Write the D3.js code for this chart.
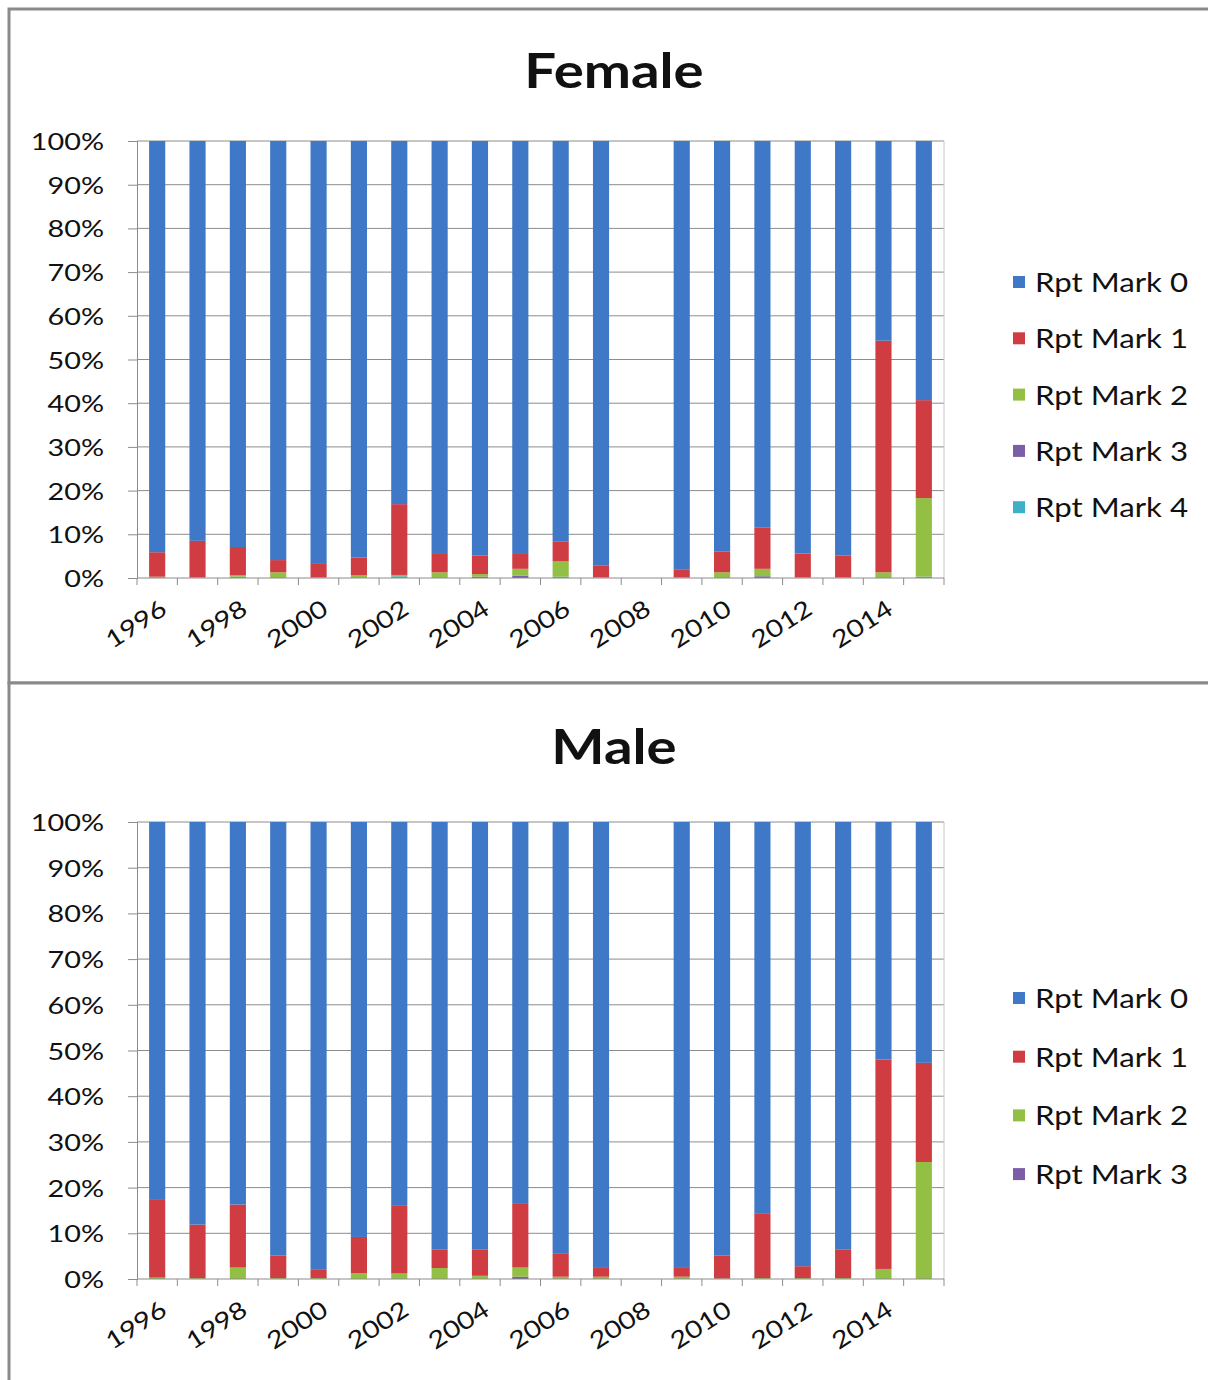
<!DOCTYPE html>
<html>
<head>
<meta charset="utf-8">
<script src="https://cdn.jsdelivr.net/npm/d3@7"></script>
<style>
  html, body { margin: 0; padding: 0; background: #fff; }
  svg { display: block; }
  text { font-family: Lato, "Open Sans", sans-serif; fill: #111; }
</style>
</head>
<body>
<svg id="chart" width="1208" height="1380"></svg>
<script>
// Report years (2008 has no survey data)
const years = [1996, 1997, 1998, 1999, 2000, 2001, 2002, 2003, 2004, 2005,
               2006, 2007, 2008, 2009, 2010, 2011, 2012, 2013, 2014, 2015];
const yearTicks = [1996, 1998, 2000, 2002, 2004, 2006, 2008, 2010, 2012, 2014];
const pctTicks = [0, 10, 20, 30, 40, 50, 60, 70, 80, 90, 100];

const seriesNames = ["Rpt Mark 0", "Rpt Mark 1", "Rpt Mark 2", "Rpt Mark 3", "Rpt Mark 4"];
const seriesColors = ["#3f78c6", "#cf3c42", "#94bf45", "#7a5ea8", "#3cb0c8"];

// Female shares (%) per year, one array per report mark
const femaleMark0 = [94.1, 91.5, 92.9, 95.9, 96.6, 95.3, 83.1, 94.5, 94.9, 94.5,
                     91.6, 97.2, null, 98.0, 93.9, 88.4, 94.4, 94.9, 45.7, 59.3];
const femaleMark1 = [5.6, 8.3, 6.5, 2.8, 3.2, 4.1, 16.2, 4.2, 4.2, 3.4,
                     4.6, 2.6, null, 1.8, 4.8, 9.5, 5.4, 4.9, 53.0, 22.4];
const femaleMark2 = [0.3, 0.2, 0.3, 1.3, 0.2, 0.6, 0.3, 1.3, 0.6, 1.6,
                     3.5, 0.2, null, 0.2, 1.3, 1.7, 0.2, 0.2, 1.3, 18.0];
const femaleMark3 = [0, 0, 0, 0, 0, 0, 0, 0, 0.3, 0.5,
                     0, 0, null, 0, 0, 0.4, 0, 0, 0, 0];
const femaleMark4 = [0, 0, 0.3, 0, 0, 0, 0.4, 0, 0, 0,
                     0.3, 0, null, 0, 0, 0, 0, 0, 0, 0.3];

// Male shares (%) per year
const maleMark0 = [82.7, 88.1, 83.7, 94.9, 98.0, 90.8, 84.0, 93.6, 93.6, 83.4,
                   94.5, 97.4, null, 97.4, 94.9, 85.6, 97.2, 93.6, 52.0, 52.7];
const maleMark1 = [17.0, 11.7, 13.8, 4.9, 1.8, 7.9, 14.8, 4.0, 5.7, 14.1,
                   5.0, 2.1, null, 2.1, 5.0, 14.2, 2.6, 6.2, 45.8, 21.7];
const maleMark2 = [0.3, 0.2, 2.5, 0.2, 0.2, 1.3, 1.2, 2.4, 0.7, 2.0,
                   0.5, 0.5, null, 0.5, 0.1, 0.2, 0.2, 0.2, 2.2, 25.6];
const maleMark3 = [0, 0, 0, 0, 0, 0, 0, 0, 0, 0.5,
                   0, 0, null, 0, 0, 0, 0, 0, 0, 0];

const svg = d3.select("#chart");
const TEXT_SX = 1.2; // horizontal stretch applied to all lettering

function stretchedText(g, x, y, str, opts) {
  const t = g.append("g")
    .attr("transform", `translate(${x},${y})` + (opts.rotate ? ` rotate(${opts.rotate})` : "") + ` scale(${TEXT_SX},1)`)
    .append("text")
    .attr("text-anchor", opts.anchor || "start")
    .attr("dominant-baseline", opts.baseline || "alphabetic")
    .style("font-size", opts.size + "px")
    .style("font-weight", opts.weight || "normal")
    .text(str);
  return t;
}

function drawPanel(cfg) {
  const g = svg.append("g");
  const x = d3.scaleBand().domain(years).range([137, 944]).paddingInner(0.6).paddingOuter(0.3);
  const step = x.step();
  const y = d3.scaleLinear().domain([0, 100]).range([cfg.y0, cfg.y1]);

  // panel frame
  g.append("rect")
    .attr("x", 9).attr("y", cfg.top)
    .attr("width", 1230).attr("height", cfg.bottom - cfg.top)
    .attr("fill", "#fff").attr("stroke", "#8a8a8a").attr("stroke-width", 3);

  // title
  stretchedText(g, 614, cfg.top + cfg.titleDy, cfg.title, { anchor: "middle", size: 47, weight: "bold" });

  // axis line, tick stubs and gridlines
  const yAxis = d3.axisLeft(y).tickValues(pctTicks).tickFormat(d => d + "%").tickSize(9);
  const ya = g.append("g").attr("transform", "translate(137,0)").call(yAxis);
  ya.select(".domain").attr("stroke", "#8c8c8c");
  ya.selectAll(".tick line").attr("stroke", "#8c8c8c");
  ya.selectAll(".tick text").remove();
  g.append("g").selectAll("line").data(pctTicks.filter(d => d > 0)).join("line")
    .attr("x1", 137).attr("x2", 944)
    .attr("y1", d => y(d)).attr("y2", d => y(d))
    .attr("stroke", "#8c8c8c").attr("stroke-width", 1);
  g.append("line").attr("x1", 944).attr("x2", 944).attr("y1", y(100)).attr("y2", y(0))
    .attr("stroke", "#c8c8c8");
  pctTicks.forEach(d => stretchedText(g, 104, y(d), d + "%", { anchor: "end", baseline: "central", size: 24 }));

  // stacked bars (first series on top)
  const rows = years.map((yr, i) => {
    const r = { year: yr, missing: cfg.series[0][i] == null };
    cfg.series.forEach((s, k) => { r[seriesNames[k]] = s[i] || 0; });
    return r;
  });
  const keys = seriesNames.slice(0, cfg.series.length);
  const stack = d3.stack().keys(keys.slice().reverse());
  const layers = stack(rows.filter(r => !r.missing));
  g.append("g").selectAll("g").data(layers).join("g")
    .attr("fill", d => seriesColors[seriesNames.indexOf(d.key)])
    .selectAll("rect").data(d => d).join("rect")
    .attr("x", d => x(d.data.year))
    .attr("width", x.bandwidth())
    .attr("y", d => y(d[1]))
    .attr("height", d => Math.max(0, y(d[0]) - y(d[1])));

  // category axis
  const xa = g.append("g").attr("transform", `translate(0,${cfg.y0})`);
  xa.append("line").attr("x1", 137).attr("x2", 944).attr("stroke", "#8c8c8c");
  xa.selectAll("line.tk").data(years.concat([null])).join("line").attr("class", "tk")
    .attr("x1", (d, i) => 137 + i * step).attr("x2", (d, i) => 137 + i * step)
    .attr("y1", 0).attr("y2", 7).attr("stroke", "#8c8c8c");
  yearTicks.forEach(yr => {
    stretchedText(g, x(yr) + x.bandwidth() / 2 + 1, cfg.y0 + 19, String(yr),
      { anchor: "end", baseline: "hanging", size: 24, rotate: -33 });
  });

  // legend
  keys.forEach((k, i) => {
    const cy = cfg.legendY + i * cfg.legendStep;
    g.append("rect").attr("x", 1013).attr("y", cy - 6).attr("width", 12).attr("height", 12)
      .attr("fill", seriesColors[i]);
    stretchedText(g, 1035, cy, k, { anchor: "start", baseline: "central", size: 26 });
  });
}

drawPanel({
  title: "Female", top: 9, bottom: 683, titleDy: 79, y0: 578, y1: 141,
  series: [femaleMark0, femaleMark1, femaleMark2, femaleMark3, femaleMark4],
  legendY: 282, legendStep: 56.3
});
drawPanel({
  title: "Male", top: 683, bottom: 1400, titleDy: 81, y0: 1279, y1: 822,
  series: [maleMark0, maleMark1, maleMark2, maleMark3],
  legendY: 998, legendStep: 58.7
});
</script>
</body>
</html>
